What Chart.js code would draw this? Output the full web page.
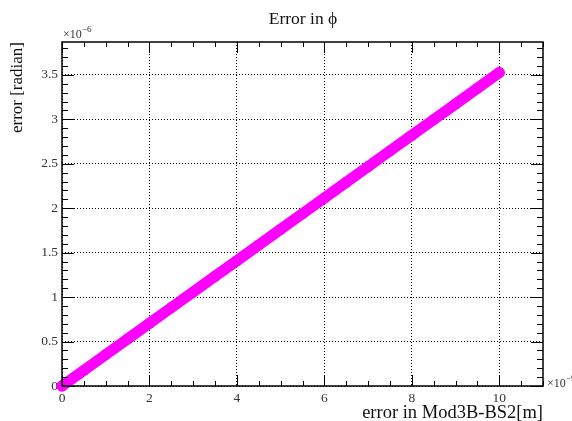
<!DOCTYPE html>
<html>
<head>
<meta charset="utf-8" />
<title>Error in phi</title>
<style>
  html, body { margin: 0; padding: 0; background: #fff; }
  #wrap { width: 572px; height: 421px; }
</style>
</head>
<body>
<div id="wrap"><canvas id="chart" width="572" height="421"></canvas></div>

<script src="https://cdn.jsdelivr.net/npm/chart.js"></script>
<script>
// error in Mod3B-BS2 [m] (x10^-9) and error in phi [radian] (x10^-6)
var xValues = [0, 0.5, 1, 1.5, 2, 2.5, 3, 3.5, 4, 4.5, 5, 5.5, 6, 6.5, 7, 7.5, 8, 8.5, 9, 9.5, 10];
var yValues = [0, 0.176, 0.353, 0.529, 0.705, 0.882, 1.058, 1.234, 1.41, 1.587, 1.763,
               1.939, 2.116, 2.292, 2.468, 2.645, 2.821, 2.997, 3.173, 3.35, 3.526];
var xTicks = [0, 2, 4, 6, 8, 10];
var yTicks = [0, 0.5, 1, 1.5, 2, 2.5, 3, 3.5];

var points = xValues.map(function (x, i) { return { x: x, y: yValues[i] }; });
var serif = "'Liberation Serif', 'DejaVu Serif', serif";

// ROOT style frame, major/minor ticks, titles
var rootFrame = {
  id: 'rootFrame',
  afterDraw: function (chart) {
    var ctx = chart.ctx;
    var a = chart.chartArea;
    var xs = chart.scales.x, ys = chart.scales.y;
    ctx.save();
    ctx.strokeStyle = '#000';
    ctx.lineWidth = 1;

    // minor + major ticks on x (bottom and top)
    for (var v = 0; v <= 11.001; v += 0.5) {
      var px = Math.round(xs.getPixelForValue(v)) + 0.5;
      var major = Math.abs(v / 2 - Math.round(v / 2)) < 1e-6;
      var len = major ? 11 : 5;
      ctx.beginPath();
      ctx.moveTo(px, a.bottom); ctx.lineTo(px, a.bottom - len);
      ctx.moveTo(px, a.top); ctx.lineTo(px, a.top + len);
      ctx.stroke();
    }
    // minor + major ticks on y (left and right)
    for (var k = 0; k <= 38; k++) {
      var val = k / 10;
      var py = Math.round(ys.getPixelForValue(val)) + 0.5;
      var majorY = k % 5 === 0;
      var leny = majorY ? 12 : 6;
      ctx.beginPath();
      ctx.moveTo(a.left, py); ctx.lineTo(a.left + leny, py);
      ctx.moveTo(a.right, py); ctx.lineTo(a.right - leny, py);
      ctx.stroke();
    }

    // frame
    ctx.lineWidth = 1.5;
    ctx.strokeRect(a.left, a.top, a.right - a.left, a.bottom - a.top);

    ctx.fillStyle = '#111';
    // title
    ctx.font = '17.5px ' + serif;
    ctx.textAlign = 'center';
    ctx.textBaseline = 'alphabetic';
    ctx.fillText('Error in \u03D5', 303, 24);

    // x axis title, right aligned
    ctx.font = '18.5px ' + serif;
    ctx.textAlign = 'right';
    ctx.fillText('error in Mod3B-BS2[m]', a.right, 418);

    // y axis title, rotated, right aligned to top
    ctx.font = '17px ' + serif;
    ctx.save();
    ctx.translate(22, a.top);
    ctx.rotate(-Math.PI / 2);
    ctx.textAlign = 'right';
    ctx.fillText('error [radian]', 0, 0);
    ctx.restore();

    // exponent labels
    ctx.textAlign = 'left';
    ctx.fillStyle = '#333';
    ctx.font = '12px ' + serif;
    ctx.fillText('\u00D710', 63, 38);
    ctx.font = '9px ' + serif;
    ctx.fillText('\u22126', 82, 32);
    ctx.font = '12px ' + serif;
    ctx.fillText('\u00D710', 547, 387);
    ctx.font = '9px ' + serif;
    ctx.fillText('\u22129', 566, 381);
    ctx.restore();
  }
};

new Chart(document.getElementById('chart').getContext('2d'), {
  type: 'scatter',
  data: {
    datasets: [{
      data: points,
      showLine: true,
      borderColor: '#ff00ff',
      backgroundColor: '#ff00ff',
      borderWidth: 11,
      borderCapStyle: 'round',
      pointRadius: 5.5,
      pointBorderWidth: 0,
      pointHoverRadius: 5.5,
      clip: false
    }]
  },
  options: {
    responsive: false,
    animation: false,
    layout: { padding: { left: 0, right: 29, top: 42, bottom: 0 } },
    plugins: {
      legend: { display: false },
      tooltip: { enabled: false },
      title: { display: false }
    },
    scales: {
      x: {
        type: 'linear',
        min: 0,
        max: 11,
        afterBuildTicks: function (s) { s.ticks = xTicks.map(function (v) { return { value: v }; }); },
        afterFit: function (s) { s.height = 35; },
        grid: { color: '#000', lineWidth: 1, drawTicks: false },
        border: { display: false, dash: [1, 2] },
        ticks: {
          color: '#333',
          font: { family: serif, size: 13.5 },
          padding: 4,
          maxRotation: 0
        }
      },
      y: {
        type: 'linear',
        min: 0,
        max: 3.87,
        afterBuildTicks: function (s) { s.ticks = yTicks.map(function (v) { return { value: v }; }); },
        afterFit: function (s) { s.width = 62; },
        grid: { color: '#000', lineWidth: 1, drawTicks: false },
        border: { display: false, dash: [1, 2] },
        ticks: {
          color: '#333',
          font: { family: serif, size: 13.5 },
          padding: 4,
          callback: function (v) { return String(v); }
        }
      }
    }
  },
  plugins: [rootFrame]
});
</script>
</body>
</html>
